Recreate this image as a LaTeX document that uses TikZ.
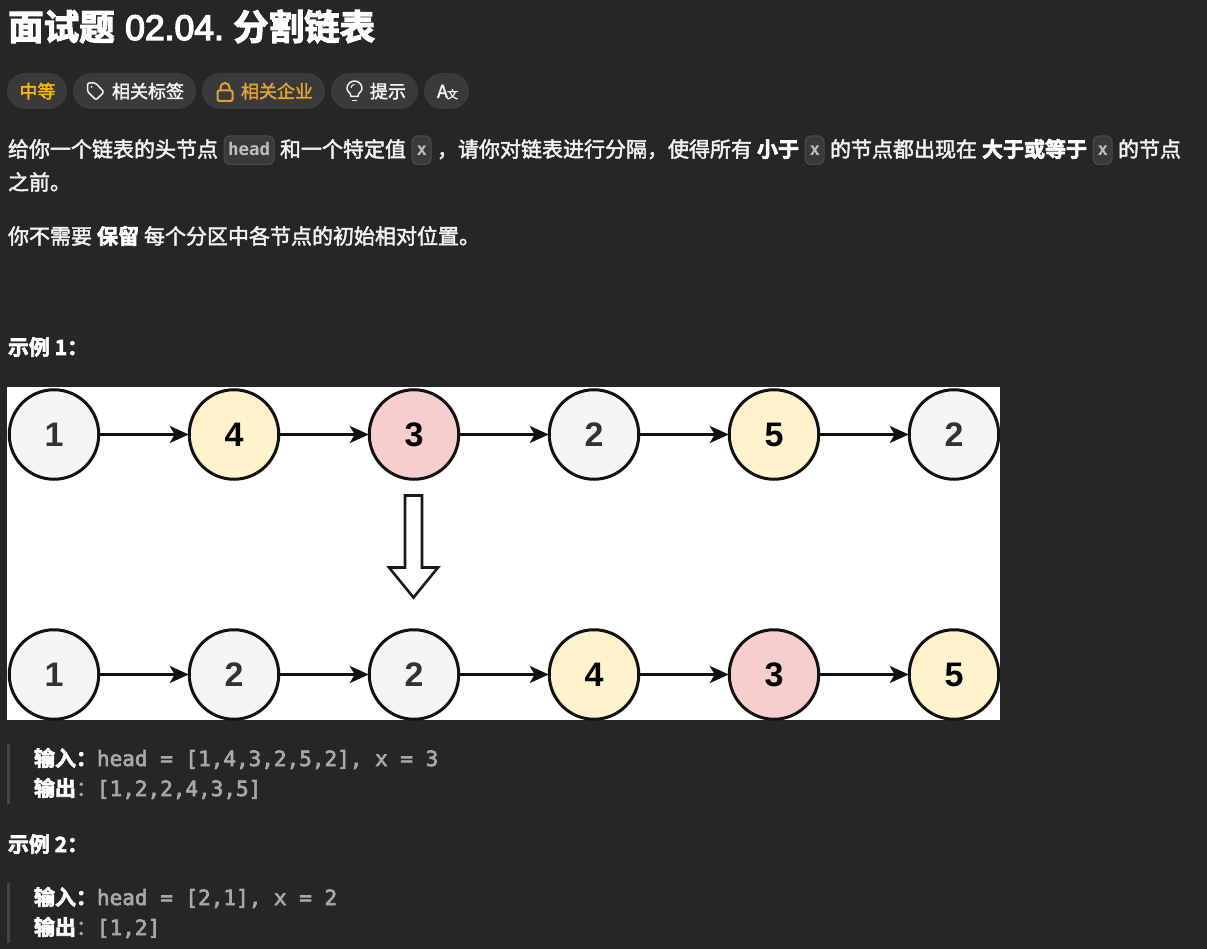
\documentclass[tikz,border=0pt]{standalone}
\usepackage{fontspec}
\usetikzlibrary{arrows.meta}
\setmainfont{Noto Sans CJK SC}
\newfontfamily\cjk[FakeBold=2.2]{Noto Sans CJK SC}
\newfontfamily\cjkb[BoldFont={Noto Sans CJK SC Bold},BoldFeatures={FakeBold=3}]{Noto Sans CJK SC}
\newfontfamily\codef[FakeBold=3]{DejaVu Sans Mono}
\newfontfamily\chipf{DejaVu Sans Mono}
\newfontfamily\digitf{Liberation Sans}
\newfontfamily\titlef[FakeBold=4]{Liberation Sans}
\definecolor{bgc}{HTML}{262626}
\definecolor{pillc}{HTML}{3A3A3A}
\definecolor{chipc}{HTML}{3A3A3A}
\definecolor{chipb}{HTML}{4C4C4C}
\definecolor{txtc}{HTML}{F2F2F2}
\definecolor{codec}{HTML}{A8A8A8}
\definecolor{chiptxt}{HTML}{BEBEBE}
\definecolor{goldc}{HTML}{FFB800}
\definecolor{lockc}{HTML}{E0A238}
\definecolor{grayn}{HTML}{F5F5F5}
\definecolor{yelln}{HTML}{FFF2CC}
\definecolor{redn}{HTML}{F8CECC}
\definecolor{barc}{HTML}{454545}
\tikzset{
  x=1pt,y=-1pt,
  txt/.style={anchor=base west,inner sep=0pt,outer sep=0pt,text=txtc,font=\cjk\fontsize{21}{21}\selectfont},
  btxt/.style={txt,font=\cjkb\bfseries\fontsize{21}{21}\selectfont,text=white},
  ttl/.style={anchor=base west,inner sep=0pt,text=white,font=\cjkb\bfseries\fontsize{35.5}{35.5}\selectfont},
  ctxt/.style={anchor=base west,inner sep=0pt,outer sep=0pt,text=codec,font=\codef\fontsize{21}{21}\selectfont},
  chtxt/.style={anchor=base west,inner sep=0pt,outer sep=0pt,text=chiptxt,font=\chipf\bfseries\fontsize{17.5}{17.5}\selectfont},
  pilltxt/.style={anchor=base west,inner sep=0pt,outer sep=0pt,text=txtc,font=\cjk\fontsize{18}{18}\selectfont},
  pill/.style={fill=pillc,rounded corners=18pt,draw=none},
  chip/.style={fill=chipc,draw=chipb,line width=1pt,rounded corners=6pt},
  lnode/.style={circle,draw=black!93,line width=3pt,minimum size=89.5pt,inner sep=0pt,font=\digitf\bfseries\fontsize{34}{34}\selectfont,text=black!80},
  gn/.style={lnode,fill=grayn},
  yn/.style={lnode,fill=yelln,text=black},
  rn/.style={lnode,fill=redn,text=black},
  link/.style={draw=black!93,line width=2.8pt,-{Stealth[length=19pt,width=17pt,inset=5pt]},shorten >=-1pt},
  bar/.style={fill=barc,draw=none},
}
\begin{document}
\begin{tikzpicture}
\useasboundingbox (0,0) rectangle (1207,949);
\fill[bgc] (0,0) rectangle (1207,949);
% title
\node[ttl] (title) at (8,40) {面试题};
\node[ttl,font=\titlef\fontsize{35.5}{35.5}\selectfont] (titleb) at (125,40) {02.04.};
\node[ttl] (titlec) at (233,40) {分割链表};
% pills
\fill[pill] (7,73) rectangle (67,109);
\fill[pill] (73,73) rectangle (196,109);
\fill[pill] (202,73) rectangle (325,109);
\fill[pill] (331,73) rectangle (418,109);
\fill[pill] (424,73) rectangle (469,109);
\node[pilltxt,text=goldc] (p1) at (19.5,98) {中等};
\node[pilltxt] (p2) at (112,98) {相关标签};
\node[pilltxt,text=lockc] (p3) at (241,98) {相关企业};
\node[pilltxt] (p4) at (370,98) {提示};
\node[pilltxt] (p5) at (437,98) {A};
\node[pilltxt,font=\cjk\fontsize{11}{11}\selectfont] (p5b) at (447,98.5) {文};
% tag icon
\draw[txtc,line width=1.5pt,line join=round,rounded corners=1.5pt] (87.5,83) -- (95.5,83) -- (104,92) -- (96,100) -- (87.5,91.5) -- cycle;
\fill[txtc] (91.5,87) circle (1pt);
% lock icon
\draw[lockc,line width=2pt,rounded corners=2pt] (217.5,90.5) rectangle (232.5,101);
\draw[lockc,line width=2pt] (220.5,90.5) -- (220.5,87.5) arc (180:360:4.5) -- (229.5,90.5);
% bulb icon
\draw[txtc,line width=1.5pt,line join=round] (351,96.5) .. controls (351,92.5) and (347,92) .. (347,88.5) arc (180:360:7.5) .. controls (362,92) and (358,92.5) .. (358,96.5) -- cycle;
\draw[txtc,line width=1.5pt] (352,100.5) -- (357,100.5);
\draw[txtc,line width=1pt] (351,88) arc (180:270:3.5);
% body line 1
\node[txt] (l1a) at (8,157) {给你一个链表的头节点};
\draw[chip] (224,136) rectangle (274,164.5);
\node[chtxt] (c1) at (228,156) {head};
\node[txt] (l1b) at (280,157) {和一个特定值};
\draw[chip] (412,136) rectangle (431,164.5);
\node[chtxt] (c2) at (416.5,156) {x};
\node[txt] (l1c) at (437,157) {，请你对链表进行分隔，使得所有};
\node[btxt] (l1d) at (757,157) {小于};
\draw[chip] (805,136) rectangle (824,164.5);
\node[chtxt] (c3) at (809.5,156) {x};
\node[txt] (l1e) at (830,157) {的节点都出现在};
\node[btxt] (l1f) at (982,157) {大于或等于};
\draw[chip] (1093,136) rectangle (1112,164.5);
\node[chtxt] (c4) at (1097.5,156) {x};
\node[txt] (l1g) at (1118,157) {的节点};
\node[txt] (l2) at (8,190) {之前。};
\node[txt] (l3a) at (8,244) {你不需要};
\node[btxt] (l3b) at (97,244) {保留};
\node[txt] (l3c) at (144,244) {每个分区中各节点的初始相对位置。};
\node[btxt] (ex1) at (8,355) {示例 1：};
% diagram
\fill[white] (7,387) rectangle (1000,720);
\foreach \n/\cx/\st/\t in {a1/54/gn/1,a2/234/yn/4,a3/414/rn/3,a4/594/gn/2,a5/774/yn/5,a6/954/gn/2}
  \node[\st] (\n) at (\cx,434.5) {\t};
\foreach \n/\cx/\st/\t in {b1/54/gn/1,b2/234/gn/2,b3/414/gn/2,b4/594/yn/4,b5/774/rn/3,b6/954/yn/5}
  \node[\st] (\n) at (\cx,674.5) {\t};
\foreach \u/\v in {a1/a2,a2/a3,a3/a4,a4/a5,a5/a6,b1/b2,b2/b3,b3/b4,b4/b5,b5/b6}
  \draw[link] (\u) -- (\v);
\draw[black!90,line width=2.6pt,line join=miter,fill=white] (405,495.5) -- (422,495.5) -- (422,567.5) -- (438,567.5) -- (413.5,597.5) -- (389,567.5) -- (405,567.5) -- cycle;
% example 1
\fill[bar] (7,744) rectangle (10,804);
\node[btxt] (i1) at (34,766) {输入：};
\node[ctxt] (i1c) at (97,766) {head = [1,4,3,2,5,2], x = 3};
\node[btxt] (o1) at (34,796) {输出};
\node[txt,text=codec] (o1p) at (76,796) {：};
\node[ctxt] (o1c) at (97,796) {[1,2,2,4,3,5]};
\node[btxt] (ex2) at (8,852) {示例 2：};
\fill[bar] (7,883) rectangle (10,943);
\node[btxt] (i2) at (34,905) {输入：};
\node[ctxt] (i2c) at (97,905) {head = [2,1], x = 2};
\node[btxt] (o2) at (34,935) {输出};
\node[txt,text=codec] (o2p) at (76,935) {：};
\node[ctxt] (o2c) at (97,935) {[1,2]};
\end{tikzpicture}
\end{document}
